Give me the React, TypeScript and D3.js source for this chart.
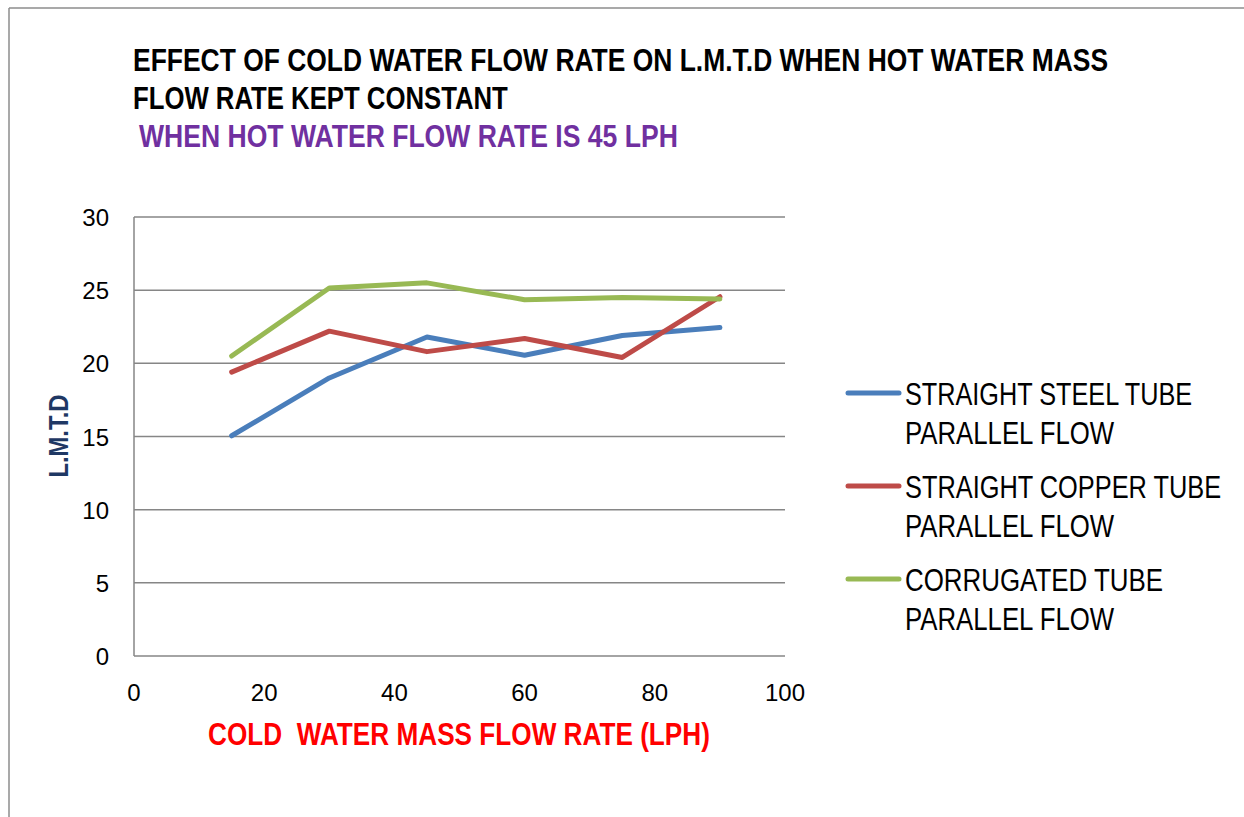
import React, { useLayoutEffect, useRef, useState } from "react";
import * as d3 from "d3";

const flowRates = [15, 30, 45, 60, 75, 90];
const steelParallel = [15.05, 19.0, 21.8, 20.55, 21.9, 22.45];
const copperParallel = [19.4, 22.2, 20.8, 21.7, 20.4, 24.55];
const corrugatedParallel = [20.5, 25.15, 25.5, 24.35, 24.5, 24.4];
const seriesNames = [
  ["STRAIGHT STEEL TUBE", "PARALLEL FLOW"],
  ["STRAIGHT COPPER TUBE", "PARALLEL FLOW"],
  ["CORRUGATED TUBE", "PARALLEL FLOW"],
];
const seriesColors = ["#4A7EBB", "#BE4B48", "#98B954"];
const xTicks = [0, 20, 40, 60, 80, 100];
const yTicks = [0, 5, 10, 15, 20, 25, 30];

const titleLines = [
  "EFFECT OF COLD WATER FLOW RATE ON L.M.T.D WHEN HOT WATER MASS",
  "FLOW RATE KEPT CONSTANT",
];
const subtitle = "WHEN HOT WATER FLOW RATE IS 45 LPH";
const xTitle = "COLD  WATER MASS FLOW RATE (LPH)";
const yTitle = "L.M.T.D";

const FONT = "'Liberation Sans Narrow', 'Arial Narrow', 'Liberation Sans', Arial, sans-serif";

// widths of the condensed text in the picture
const titleWidths = [975, 375];
const legendWidths = [
  [287, 209],
  [316, 209],
  [258, 209],
];

type FitProps = {
  x: number;
  y: number;
  width: number;
  rotate?: number;
  anchor?: "start" | "middle";
  children: string;
  [k: string]: any;
};

// Text condensed horizontally to a given width (the original uses a narrow face)
function FitText({ x, y, width, rotate = 0, anchor = "start", children, ...rest }: FitProps) {
  const ref = useRef<SVGTextElement>(null);
  const [s, setS] = useState(0.85);
  useLayoutEffect(() => {
    if (ref.current) {
      const w = ref.current.getComputedTextLength();
      if (w > 0) setS(width / w);
    }
  }, [width, children]);
  return (
    <g transform={`translate(${x},${y}) rotate(${rotate}) scale(${s},1)`}>
      <text ref={ref} x={0} y={0} textAnchor={anchor} style={{ whiteSpace: "pre" }} {...rest}>
        {children}
      </text>
    </g>
  );
}

export default function App() {
  const W = 1244;
  const H = 817;
  const x = d3.scaleLinear().domain([0, 100]).range([134, 785]);
  const y = d3.scaleLinear().domain([0, 30]).range([656, 217]);
  const allSeries = [steelParallel, copperParallel, corrugatedParallel];
  const line = d3
    .line<number>()
    .x((_, i) => x(flowRates[i]))
    .y((d) => y(d));

  return (
    <svg
      width={W}
      height={H}
      style={{ position: "absolute", left: 0, top: 0, background: "#fff" }}
    >
      <rect x={0} y={0} width={W} height={H} fill="#fff" />
      {/* frame */}
      <line x1={9} y1={8} x2={W} y2={8} stroke="#8c8c8c" strokeWidth={1.5} />
      <line x1={9} y1={8} x2={9} y2={H} stroke="#8c8c8c" strokeWidth={1.5} />

      {/* titles */}
      {titleLines.map((t, i) => (
        <FitText
          key={i}
          x={133}
          y={71 + i * 38}
          width={titleWidths[i]}
          fontFamily={FONT}
          fontWeight="bold"
          fontSize={32}
          fill="#000"
        >
          {t}
        </FitText>
      ))}
      <FitText
        x={139}
        y={147}
        width={539}
        fontFamily={FONT}
        fontWeight="bold"
        fontSize={32}
        fill="#7030A0"
      >
        {subtitle}
      </FitText>

      {/* gridlines */}
      {yTicks.map((t) => (
        <line key={t} x1={x(0)} x2={x(100)} y1={y(t)} y2={y(t)} stroke="#868686" strokeWidth={1.5} />
      ))}
      <line x1={x(0)} x2={x(0)} y1={y(30)} y2={y(0)} stroke="#868686" strokeWidth={1.5} />

      {/* y tick labels */}
      {yTicks.map((t) => (
        <text
          key={t}
          x={109}
          y={y(t) + 9}
          textAnchor="end"
          fontFamily={FONT}
          fontSize={24}
          fill="#000"
        >
          {t}
        </text>
      ))}
      {/* x tick labels */}
      {xTicks.map((t) => (
        <text
          key={t}
          x={x(t)}
          y={701}
          textAnchor="middle"
          fontFamily={FONT}
          fontSize={24}
          fill="#000"
        >
          {t}
        </text>
      ))}

      {/* series */}
      {allSeries.map((s, i) => (
        <path
          key={i}
          d={line(s) || ""}
          fill="none"
          stroke={seriesColors[i]}
          strokeWidth={5}
          strokeLinejoin="round"
          strokeLinecap="round"
        />
      ))}

      {/* axis titles */}
      <FitText
        x={208}
        y={745}
        width={502}
        fontFamily={FONT}
        fontWeight="bold"
        fontSize={32}
        fill="#FF0000"
      >
        {xTitle}
      </FitText>
      <FitText
        x={68}
        y={436}
        rotate={-90}
        anchor="middle"
        width={83}
        fontFamily={FONT}
        fontWeight="bold"
        fontSize={27}
        fill="#1F3864"
      >
        {yTitle}
      </FitText>

      {/* legend */}
      {seriesNames.map((lines, i) => {
        const top = 393 + i * 93;
        return (
          <g key={i}>
            <line
              x1={848}
              x2={899}
              y1={top}
              y2={top}
              stroke={seriesColors[i]}
              strokeWidth={5}
              strokeLinecap="round"
            />
            {lines.map((l, j) => (
              <FitText
                key={j}
                x={905}
                y={top + 12 + j * 38.5}
                width={legendWidths[i][j]}
                fontFamily={FONT}
                fontSize={31}
                fill="#000"
              >
                {l}
              </FitText>
            ))}
          </g>
        );
      })}
    </svg>
  );
}
